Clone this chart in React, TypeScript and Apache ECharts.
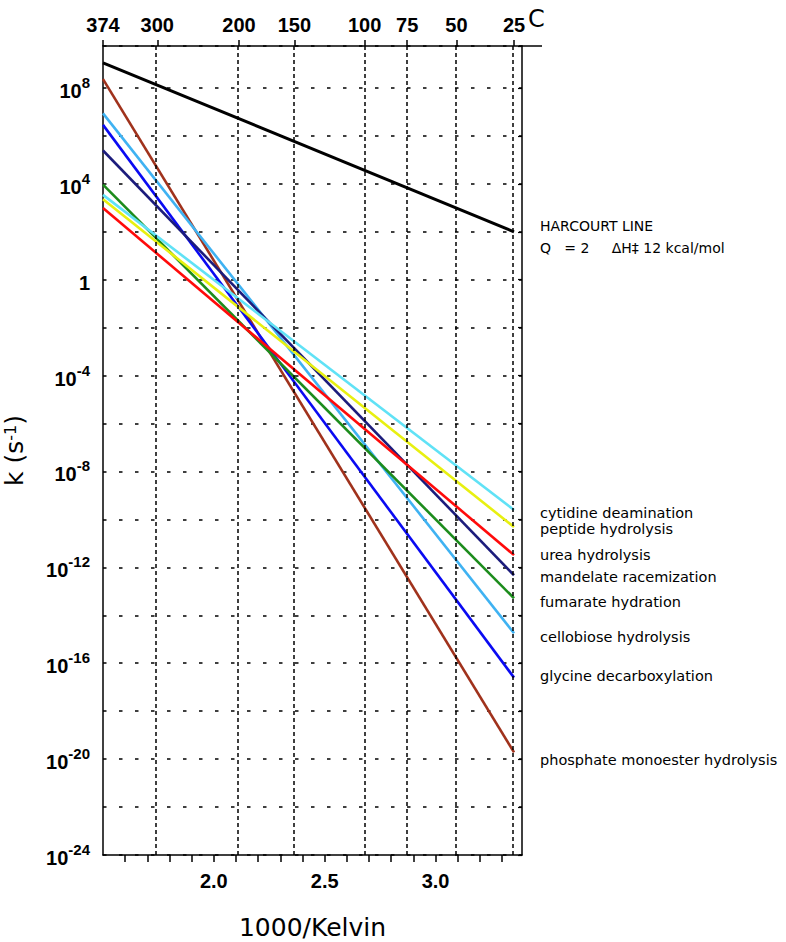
import React, { useEffect, useRef } from 'react';
import * as echarts from 'echarts';

// ---- data (log10 k, s^-1) ----
const SERIES_NAMES = [
  'HARCOURT LINE',
  'phosphate monoester hydrolysis',
  'cellobiose hydrolysis',
  'glycine decarboxylation',
  'mandelate racemization',
  'fumarate hydration',
  'cytidine deamination',
  'peptide hydrolysis',
  'urea hydrolysis',
];
const LOGK_AT_LEFT = [9.05, 8.37, 6.94, 6.46, 5.39, 3.97, 3.54, 3.36, 2.99];
const LOGK_AT_25C = [2.0, -19.72, -14.75, -16.6, -12.33, -13.29, -9.61, -10.32, -11.49];
const X_LEFT = 1.5; // 1000/K where the lines start (left edge)
const T_END_C = 25; // lines end at 25 C
const TOP_CELSIUS = [374, 300, 200, 150, 100, 75, 50, 25];
const X_MIN = 1.5;
const X_MAX = 3.39;
const Y_MIN = -24;
const Y_MAX = 9.75;

// ---- styles / layout ----
const SERIES_COLORS = ['#000000', '#a0321c', '#3fb2f2', '#0a0af2', '#1c1c7c', '#1c8c1c', '#60e2f6', '#e8f010', '#ff0a0a'];
const LABEL_LAYOUT: [string, number][] = [
  ['cytidine deamination', 513],
  ['peptide hydrolysis', 529],
  ['urea hydrolysis', 555],
  ['mandelate racemization', 577],
  ['fumarate hydration', 602],
  ['cellobiose hydrolysis', 637],
  ['glycine decarboxylation', 676],
  ['phosphate monoester hydrolysis', 760],
];

const toInvK = (c: number) => 1000 / (c + 273.15);
const TOP_POS = TOP_CELSIUS.map((c, i) => (i === 0 ? X_MIN : toInvK(c)));

const SANS = 'DejaVu Sans';
const HELV = 'Liberation Sans';

export default function App() {
  const ref = useRef<HTMLDivElement>(null);
  useEffect(() => {
    if (!ref.current) return;
    const chart = echarts.init(ref.current, undefined, { renderer: 'svg' });
    const xEnd = toInvK(T_END_C);
    const lineSeries = SERIES_NAMES.map((name, i) => ({
      name,
      type: 'line',
      xAxisIndex: 0,
      yAxisIndex: 0,
      showSymbol: false,
      symbol: 'none',
      silent: true,
      z: 3,
      lineStyle: { color: SERIES_COLORS[i], width: i === 0 ? 3 : 2.6 },
      data: [
        [X_LEFT, LOGK_AT_LEFT[i]],
        [xEnd, LOGK_AT_25C[i]],
      ],
    }));
    const option: any = {
      animation: false,
      backgroundColor: '#ffffff',
      grid: { left: 103, right: 264, top: 46, bottom: 87, containLabel: false, outerBoundsMode: 'none' },
      xAxis: [
        {
          type: 'value',
          position: 'bottom',
          min: X_MIN,
          max: X_MAX,
          interval: 0.1,
          name: '1000/Kelvin',
          nameLocation: 'middle',
          nameGap: 60,
          nameTextStyle: { fontFamily: SANS, fontSize: 25, color: '#000' },
          axisLine: { show: true, onZero: false, lineStyle: { color: '#000', width: 1.5 } },
          axisTick: { show: true, inside: false, length: 7, lineStyle: { color: '#000', width: 1.5 } },
          splitLine: { show: false },
          axisLabel: {
            margin: 16,
            fontFamily: HELV,
            fontWeight: 'bold',
            fontSize: 20,
            color: '#000',
            showMinLabel: false,
            showMaxLabel: false,
            formatter: (v: number) => {
              const t = v * 2;
              if (Math.abs(t - Math.round(t)) < 1e-6 && v > 1.55 && v < 3.3) return v.toFixed(1);
              return '';
            },
          },
        },
        {
          type: 'value',
          position: 'top',
          min: X_MIN,
          max: X_MAX,
          axisLine: { show: true, onZero: false, lineStyle: { color: '#000', width: 1.5 } },
          axisTick: { show: true, inside: false, length: 6, customValues: TOP_POS, lineStyle: { color: '#000', width: 1.5 } },
          splitLine: { show: false },
          axisLabel: {
            show: true,
            customValues: TOP_POS,
            margin: 11,
            fontFamily: HELV,
            fontWeight: 'bold',
            fontSize: 20,
            color: '#000',
            formatter: (v: number) => {
              const i = TOP_POS.findIndex((p) => Math.abs(p - v) < 1e-6);
              return i >= 0 ? String(TOP_CELSIUS[i]) : '';
            },
          },
        },
      ],
      yAxis: [
        {
          type: 'value',
          position: 'left',
          min: Y_MIN,
          max: Y_MAX,
          interval: 2,
          name: 'k (s{sup|-1})',
          nameLocation: 'middle',
          nameGap: 76,
          nameRotate: 90,
          nameTextStyle: {
            fontFamily: SANS,
            fontSize: 25,
            color: '#000',
            rich: { sup: { fontFamily: SANS, fontSize: 16, color: '#000', verticalAlign: 'top', lineHeight: 16 } },
          },
          axisLine: { show: true, onZero: false, lineStyle: { color: '#000', width: 1.5 } },
          axisTick: { show: false },
          splitLine: { show: true, lineStyle: { color: '#000', width: 1.6, type: [3.5, 12.5] } },
          axisLabel: {
            margin: 13,
            color: '#000',
            formatter: (v: number) => {
              if (Math.abs(v - Math.round(v)) > 1e-6) return '';
              const r = Math.round(v);
              if (r % 4 !== 0 || r > 8) return '';
              if (r === 0) return '{b|1}';
              return '{b|10}{s|' + r + '}';
            },
            rich: {
              b: { fontFamily: HELV, fontWeight: 'bold', fontSize: 20, color: '#000', lineHeight: 26, verticalAlign: 'bottom' },
              s: { fontFamily: HELV, fontWeight: 'bold', fontSize: 15, color: '#000', lineHeight: 18, verticalAlign: 'top' },
            },
          },
        },
        {
          type: 'value',
          position: 'right',
          min: Y_MIN,
          max: Y_MAX,
          interval: 2,
          axisLine: { show: true, onZero: false, lineStyle: { color: '#000', width: 1.5 } },
          axisTick: { show: true, inside: true, length: 4, lineStyle: { color: '#000', width: 1.2 } },
          axisLabel: { show: false },
          splitLine: { show: false },
        },
      ],
      series: [
        {
          name: 'temperature lines',
          type: 'line',
          data: [],
          silent: true,
          z: 2,
          markLine: {
            silent: true,
            symbol: 'none',
            animation: false,
            label: { show: false },
            lineStyle: { color: '#000', width: 1.5, type: [4, 3] },
            data: TOP_POS.slice(1).map((x) => ({ xAxis: x })),
          },
        },
        ...lineSeries,
      ],
      graphic: [
        { type: 'line', shape: { x1: 522, y1: 46, x2: 542, y2: 46 }, style: { stroke: '#000', lineWidth: 1.5 } },
        { type: 'text', x: 528, y: 19, style: { text: 'C', fill: '#000', font: '24px "DejaVu Sans"', align: 'left', verticalAlign: 'middle' } },
        { type: 'text', x: 540, y: 226, style: { text: 'HARCOURT LINE', fill: '#000', font: '14px "DejaVu Sans"', align: 'left', verticalAlign: 'middle' } },
        { type: 'text', x: 540, y: 248, style: { text: 'Q   = 2     ΔH‡ 12 kcal/mol', fill: '#000', font: '14px "DejaVu Sans"', align: 'left', verticalAlign: 'middle' } },
        ...LABEL_LAYOUT.map(([t, y]) => ({
          type: 'text',
          x: 540,
          y,
          style: { text: t, fill: '#000', font: '14.5px "DejaVu Sans"', align: 'left', verticalAlign: 'middle' },
        })),
      ],
    };
    chart.setOption(option);
    return () => chart.dispose();
  }, []);
  return <div ref={ref} style={{ position: 'fixed', left: 0, top: 0, width: 786, height: 942, background: '#fff' }} />;
}
